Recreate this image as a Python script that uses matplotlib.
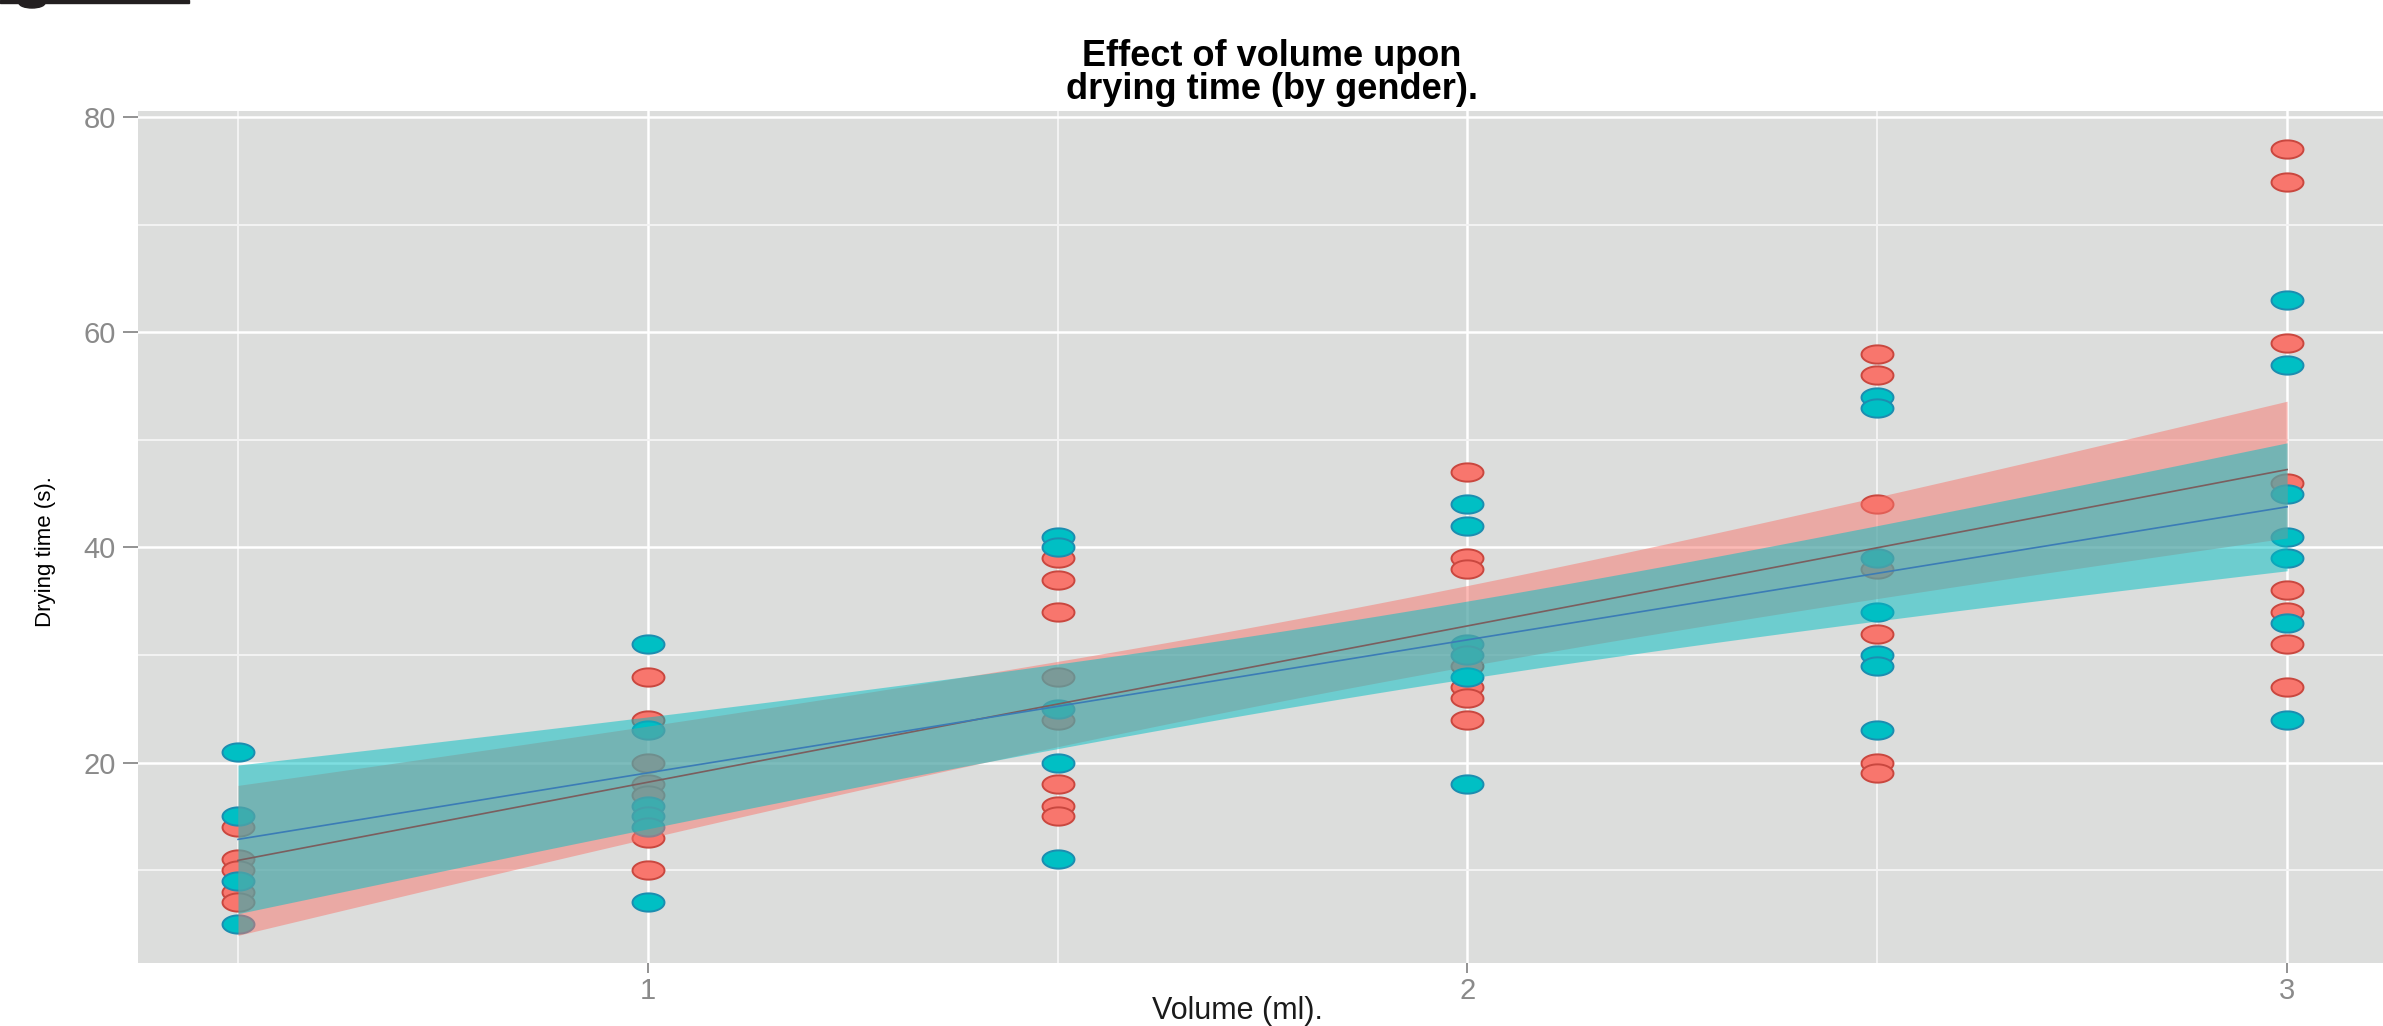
import numpy as np
import matplotlib
matplotlib.use("Agg")
import matplotlib.pyplot as plt
from matplotlib.path import Path
from matplotlib.patches import Rectangle, Ellipse

plt.rcParams["font.family"] = ["Liberation Sans", "DejaVu Sans"]

# drying time (s) per volume (ml), split by gender
VOLUMES = [0.5, 1.0, 1.5, 2.0, 2.5, 3.0]
RED_TIMES = [
    [14, 11, 10, 8, 7],
    [28, 24, 20, 18, 17, 13, 10],
    [39, 37, 34, 28, 24, 18, 16, 15],
    [47, 39, 38, 29, 27, 26, 24],
    [58, 56, 44, 38, 32, 20, 19],
    [77, 74, 59, 46, 36, 34, 31, 27],
]
TEAL_TIMES = [
    [21, 15, 9, 5],
    [31, 23, 16, 15, 14, 7],
    [41, 40, 25, 20, 11],
    [44, 42, 31, 30, 28, 18],
    [54, 53, 39, 34, 30, 29, 23],
    [63, 57, 45, 41, 39, 33, 24],
]
X_TICKS = [1, 2, 3]
Y_TICKS = [20, 40, 60, 80]

C_RED = "#F8766D"
C_RED_EDGE = "#C9473F"
C_TEAL = "#00BFC4"
C_TEAL_EDGE = "#1C8DB0"
C_RED_LINE = "#7B5E5E"
C_TEAL_LINE = "#3B7CB6"
C_PANEL = "#DCDDDC"
T975 = 2.02  # t quantile, df ~ 35-40

W, H = 2383, 1026


def flatten(groups):
    xs, ys = [], []
    for v, vals in zip(VOLUMES, groups):
        xs += [v] * len(vals)
        ys += vals
    return np.array(xs, float), np.array(ys, float)


def lm_band(x, y, grid):
    b, a = np.polyfit(x, y, 1)
    n = len(x)
    resid = y - (a + b * x)
    s = np.sqrt((resid ** 2).sum() / (n - 2))
    sxx = ((x - x.mean()) ** 2).sum()
    fit = a + b * grid
    se = s * np.sqrt(1.0 / n + (grid - x.mean()) ** 2 / sxx)
    return fit, fit - T975 * se, fit + T975 * se


# horizontally stretched ellipse marker
th = np.linspace(0, 2 * np.pi, 64)
ELL = Path(np.column_stack([1.75 * np.cos(th), np.sin(th)]), closed=True)

fig = plt.figure(figsize=(W / 100, H / 100), dpi=100)
left, right, top, bottom = 138, 2383, 110.7, 962.7
ax = fig.add_axes([left / W, 1 - bottom / H, (right - left) / W, (bottom - top) / H])
ax.set_facecolor(C_PANEL)

ax.set_xlim(0.378, 3.117)
ax.set_ylim(1.4, 80.6)
ax.set_xticks(X_TICKS)
ax.set_xticks([0.5, 1.5, 2.5], minor=True)
ax.set_yticks(Y_TICKS)
ax.set_yticks([10, 30, 50, 70], minor=True)
ax.grid(which="major", color="white", lw=1.8)
ax.grid(which="minor", color="#F3F3F3", lw=1.4)
ax.set_axisbelow(True)
for sp in ax.spines.values():
    sp.set_visible(False)
ax.tick_params(axis="y", which="major", length=11, width=1.3, color="#8A8A8A",
               labelcolor="#8A8A8A", labelsize=21, pad=5)
ax.tick_params(axis="x", which="major", length=7, width=1.3, color="#8A8A8A",
               labelcolor="#8A8A8A", labelsize=21, pad=3)
ax.tick_params(which="minor", length=0)

xr, yr = flatten(RED_TIMES)
xt, yt = flatten(TEAL_TIMES)

ax.scatter(xr, yr, s=530, marker=ELL, facecolor=C_RED, edgecolor=C_RED_EDGE,
           linewidths=1.4, zorder=2)
ax.scatter(xt, yt, s=530, marker=ELL, facecolor=C_TEAL, edgecolor=C_TEAL_EDGE,
           linewidths=1.4, zorder=2)

grid = np.linspace(0.5, 3.0, 80)
fr, lr, ur = lm_band(xr, yr, grid)
ft, lt, ut = lm_band(xt, yt, grid)
ax.fill_between(grid, lr, ur, color=C_RED, alpha=0.5, lw=0, zorder=3)
ax.fill_between(grid, lt, ut, color=C_TEAL, alpha=0.5, lw=0, zorder=3)
ax.plot(grid, fr, color=C_RED_LINE, lw=1.2, zorder=4)
ax.plot(grid, ft, color=C_TEAL_LINE, lw=1.2, zorder=4)

fig.text(1272 / W, 1 - 73 / H, "Effect of volume upon\ndrying time (by gender).",
         ha="center", va="center", fontsize=26, fontweight="bold",
         linespacing=0.9, color="black")
fig.text(1237 / W, 1 - 1011 / H, "Volume (ml).", ha="center", va="center",
         fontsize=22, color="#1A1A1A")
fig.text(46 / W, 1 - 552 / H, "Drying time (s).", ha="center", va="center",
         rotation=90, fontsize=16, color="black")

# cropped artefact at the top-left corner of the source screenshot
fig.patches.append(Rectangle((0, 1 - 3 / H), 189 / W, 3 / H, transform=fig.transFigure,
                             color="#231F20", zorder=10))
fig.patches.append(Ellipse((32 / W, 1 - 3 / H), 26 / W, 10 / H, transform=fig.transFigure,
                           color="#231F20", zorder=10))

fig.savefig("out.png", dpi=100)
